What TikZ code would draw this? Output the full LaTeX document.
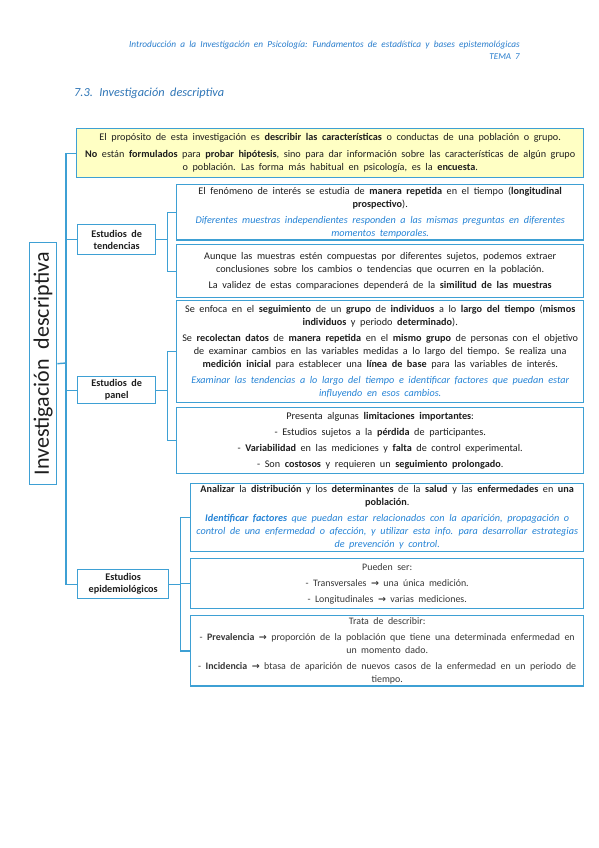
\documentclass[tikz,border=0pt]{standalone}
\usepackage{fontspec}
\setmainfont{Carlito}[WordSpace=2]
\newfontfamily\arrowfont{DejaVu Sans}
\definecolor{bord}{RGB}{62,160,212}
\definecolor{blueit}{RGB}{38,132,214}
\definecolor{ttl}{RGB}{46,117,182}
\definecolor{hdr}{RGB}{40,125,205}
\definecolor{yel}{RGB}{255,255,196}
\definecolor{txt}{RGB}{30,30,30}
\definecolor{txtg}{RGB}{55,55,55}
\newcommand{\myarr}{{\arrowfont\bfseries\fontsize{9.5}{9}\selectfont →}}
\newcommand{\bi}[1]{{\color{blueit}\itshape #1}}
\tikzset{
  box/.style={draw=bord, line width=1.4pt, anchor=north west, align=center,
    inner sep=2pt, text=txt, font=\fontsize{10.2}{13}\selectfont},
  lvl/.style={box, font=\fontsize{10.2}{12}\selectfont\bfseries},
  conn/.style={draw=bord, line width=1.4pt}
}
\begin{document}
\begin{tikzpicture}[x=1pt,y=-1pt]
\useasboundingbox[fill=white] (0,0) rectangle (599,848);
% header
\node[anchor=base east, inner sep=0, text=hdr, font=\fontsize{9.3}{10}\selectfont\itshape] (hd1) at (520,48)
  {Introducción a la Investigación en Psicología: Fundamentos de estadística y bases epistemológicas};
\node[anchor=base east, inner sep=0, text=hdr, font=\fontsize{9}{10}\selectfont\itshape] (hd2) at (520,60) {TEMA 7};
\node[anchor=base west, inner sep=0, text=ttl, font=\fontsize{12.3}{13}\selectfont\itshape] (title) at (74,97)
  {7.3. Investigación descriptiva};
% yellow box
\node[box, fill=yel, minimum width=507, minimum height=49] (Y) at (76,128)
  {El propósito de esta investigación es \textbf{describir las características} o conductas de una población o grupo.\\[4pt]
   \textbf{No} están \textbf{formulados} para \textbf{probar hipótesis}, sino para dar información sobre las características de algún grupo\\
   o población. Las forma más habitual en psicología, es la \textbf{encuesta}.};
% left main box
\node[draw=bord, line width=1.4pt, anchor=north west, minimum width=27, minimum height=242, inner sep=0,
  font=\fontsize{22}{22}\selectfont, text=txt] (LD) at (29,242)
  {\rotatebox{90}{Investigación descriptiva}};
% level 1
\node[lvl, minimum width=78, minimum height=30] (tend) at (77,224) {Estudios de\\tendencias};
\node[lvl, minimum width=78, minimum height=27] (panel) at (77,376) {Estudios de\\panel};
\node[lvl, minimum width=91, minimum height=29] (epi) at (77,569) {Estudios\\epidemiológicos};
% level 2 : tendencias
\node[box, minimum width=407, minimum height=55] (T1) at (176,184)
  {El fenómeno de interés se estudia de \textbf{manera repetida} en el tiempo (\textbf{longitudinal}\\
   \textbf{prospectivo}).\\[3pt]
   \bi{Diferentes muestras independientes responden a las mismas preguntas en diferentes}\\
   \bi{momentos temporales.}};
\node[box, minimum width=407, minimum height=53] (T2) at (176,244)
  {Aunque las muestras estén compuestas por diferentes sujetos, podemos extraer\\
   conclusiones sobre los cambios o tendencias que ocurren en la población.\\[3pt]
   La validez de estas comparaciones dependerá de la \textbf{similitud de las muestras}};
% panel
\node[box, minimum width=407, minimum height=102] (P1) at (176,300)
  {Se enfoca en el \textbf{seguimiento} de un \textbf{grupo} de \textbf{individuos} a lo \textbf{largo del tiempo} (\textbf{mismos}\\
   \textbf{individuos} y periodo \textbf{determinado}).\\[3pt]
   Se \textbf{recolectan datos} de \textbf{manera repetida} en el \textbf{mismo grupo} de personas con el objetivo\\
   de examinar cambios en las variables medidas a lo largo del tiempo. Se realiza una\\
   \textbf{medición inicial} para establecer una \textbf{línea de base} para las variables de interés.\\[3pt]
   \bi{Examinar las tendencias a lo largo del tiempo e identificar factores que puedan estar}\\
   \bi{influyendo en esos cambios.}};
\node[box, minimum width=407, minimum height=66] (P2) at (176,407)
  {Presenta algunas \textbf{limitaciones importantes}:\\[3pt]
   - Estudios sujetos a la \textbf{pérdida} de participantes.\\[3pt]
   - \textbf{Variabilidad} en las mediciones y \textbf{falta} de control experimental.\\[3pt]
   - Son \textbf{costosos} y requieren un \textbf{seguimiento prolongado}.};
% epidemiologicos
\node[box, minimum width=393, minimum height=67] (E1) at (190,483)
  {\textbf{Analizar} la \textbf{distribución} y los \textbf{determinantes} de la \textbf{salud} y las \textbf{enfermedades} en \textbf{una}\\
   \textbf{población}.\\[3pt]
   \bi{\textbf{Identificar factores} que puedan estar relacionados con la aparición, propagación o}\\
   \bi{control de una enfermedad o afección, y utilizar esta info. para desarrollar estrategias}\\
   \bi{de prevención y control.}};
\node[box, minimum width=393, minimum height=50, text=txtg, font=\fontsize{9.9}{13}\selectfont] (E2) at (190,558)
  {Pueden ser:\\[3pt]
   - Transversales \myarr{} una única medición.\\[3pt]
   - Longitudinales \myarr{} varias mediciones.};
\node[box, minimum width=393, minimum height=68, text=txtg, font=\fontsize{9.9}{13}\selectfont] (E3) at (190,615)
  {Trata de describir:\\[3pt]
   - \textbf{Prevalencia} \myarr{} proporción de la población que tiene una determinada enfermedad en\\
   un momento dado.\\[3pt]
   - \textbf{Incidencia} \myarr{} btasa de aparición de nuevos casos de la enfermedad en un periodo de\\
   tiempo.};
% connectors
\coordinate (S) at (66,363);
\draw[conn] (LD.east) -- (S);
\draw[conn] (Y.west) -| (S);
\draw[conn] (tend.west) -| (S);
\draw[conn] (panel.west) -| (S);
\draw[conn] (epi.west) -| (S);
\coordinate (tj) at ([xshift=11pt]tend.east);
\draw[conn] (tend.east) -- (tj);
\draw[conn] (T1.west) -| (tj);
\draw[conn] (T2.west) -| (tj);
\coordinate (pj) at ([xshift=11pt]panel.east);
\draw[conn] (panel.east) -- (pj);
\draw[conn] (P1.west) -| (pj);
\draw[conn] (P2.west) -| (pj);
\coordinate (ej) at ([xshift=11pt]epi.east);
\draw[conn] (epi.east) -- (ej);
\draw[conn] (E1.west) -| (ej);
\draw[conn] (E2.west) -| (ej);
\draw[conn] (E3.west) -| (ej);
\end{tikzpicture}
\end{document}
